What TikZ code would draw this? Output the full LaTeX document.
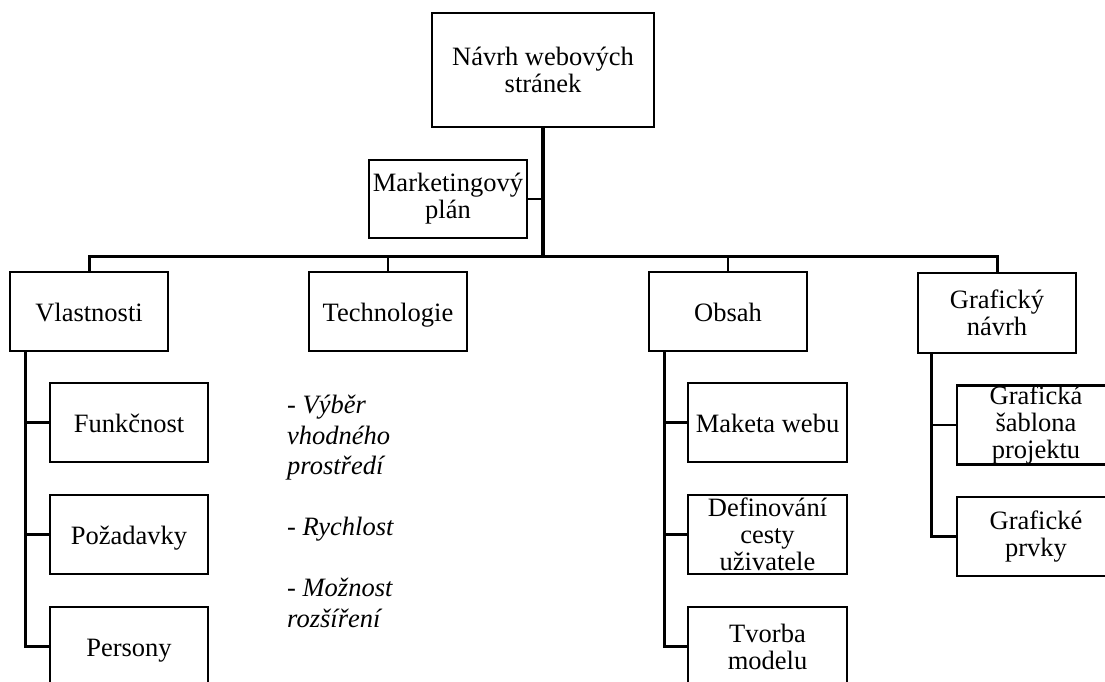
\documentclass[tikz,border=0pt]{standalone}
\usepackage{fontspec}
\setmainfont{Liberation Serif}
\begin{document}
\begin{tikzpicture}[x=1pt,y=-1pt,
  box/.style={draw, line width=2.5pt, minimum width=158pt, minimum height=79pt, inner sep=0pt, align=center, font=\fontsize{26.5}{27}\selectfont},
  one/.style={text height=20pt, text depth=1pt},
  conn/.style={line width=2.5pt},
  trunk/.style={line width=3.5pt},
  bar/.style={line width=3pt}]
\useasboundingbox (0,0) rectangle (1105,682);
\clip (0,0) rectangle (1105,682);
\node[box, minimum width=222pt, minimum height=114pt] (top) at (543,70) {Návrh webových\\stránek};
\node[box, minimum height=78pt] (mkt) at (448,199) {Marketingový\\plán};
\node[box, one] (vl) at (89,311.5) {Vlastnosti};
\node[box, one] (te) at (388,311.5) {Technologie};
\node[box, one] (ob) at (728,311.5) {Obsah};
\node[box, minimum height=80pt] (gr) at (997,313) {Grafický\\návrh};
\node[box, one] (fu) at (129,422.5) {Funkčnost};
\node[box, one] (po) at (129,534.5) {Požadavky};
\node[box, one] (pe) at (129,646.5) {Persony};
\node[box, one, minimum width=159pt] (ma) at (767.5,422.5) {Maketa webu};
\node[box, minimum width=159pt] (de) at (767.5,534.5) {Definování\\cesty\\uživatele};
\node[box, minimum width=159pt] (tv) at (767.5,646.5) {Tvorba\\modelu};
\node[box] (gs) at (1036,425) {Grafická\\šablona\\projektu};
\node[box] (gp) at (1036,536.5) {Grafické\\prvky};
\node[anchor=base west, align=left, inner sep=0pt, font=\fontsize{26.5}{30.5}\selectfont\itshape] (tx) at (287,627)
  {- Výběr\\vhodného\\prostředí\\[30.5pt]- Rychlost\\[30.5pt]- Možnost\\rozšíření};
\coordinate (hub) at (543,256);
\draw[trunk] (top.south) -- (hub);
\draw[conn] (mkt.east) -- (mkt.east -| hub);
\draw[bar] (vl.north) |- (hub) -| (gr.north);
\draw[conn] (te.north) -- (te.north |- hub);
\draw[conn] (ob.north) -- (ob.north |- hub);
\coordinate (vlx) at ([xshift=17pt]vl.south west);
\draw[bar] (vlx) |- (pe.west);
\draw[conn] (fu.west) -- (fu.west -| vlx);
\draw[conn] (po.west) -- (po.west -| vlx);
\coordinate (obx) at ([xshift=17pt]ob.south west);
\draw[bar] (obx) |- (tv.west);
\draw[conn] (ma.west) -- (ma.west -| obx);
\draw[conn] (de.west) -- (de.west -| obx);
\coordinate (grx) at ([xshift=15pt]gr.south west);
\draw[bar] (grx) |- (gp.west);
\draw[conn] (gs.west) -- (gs.west -| grx);
\end{tikzpicture}
\end{document}
